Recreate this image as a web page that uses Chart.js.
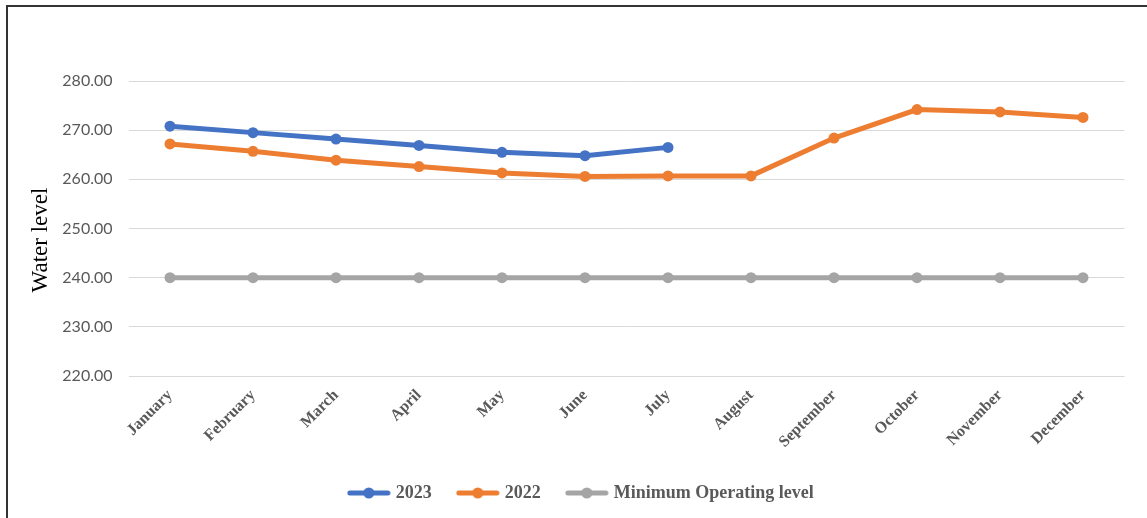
<!DOCTYPE html>
<html>
<head>
<meta charset="utf-8">
<script src="https://cdn.jsdelivr.net/npm/chart.js@4"></script>
<style>
  html, body { margin: 0; padding: 0; background: #fff; }
  #wrap { position: relative; width: 1147px; height: 518px; overflow: hidden; }
  #frame { position: absolute; left: 6px; top: 5px; right: -10px; bottom: -10px;
           border-top: 2px solid #333; border-left: 2px solid #333; pointer-events: none; }
  canvas { position: absolute; left: 0; top: 0; }
</style>
</head>
<body>
<div id="wrap">
  <canvas id="levelChart" width="1147" height="518"></canvas>
  <div id="frame"></div>
</div>
<script>
// Datos
const months = ['January', 'February', 'March', 'April', 'May', 'June', 'July',
  'August', 'September', 'October', 'November', 'December']
const level2023 = [270.8, 269.5, 268.2, 266.9, 265.5, 264.8, 266.5, null, null, null, null, null]
const level2022 = [267.2, 265.7, 263.9, 262.6, 261.3, 260.6, 260.7, 260.7, 268.4, 274.2, 273.7, 272.6]
const minLevel = [240, 240, 240, 240, 240, 240, 240, 240, 240, 240, 240, 240]
const yTicks = [220, 230, 240, 250, 260, 270, 280]

const BLUE = '#4472C4'
const ORANGE = '#ED7D31'
const GRAY = '#A5A5A5'
const TEXT = '#595959'

// Icono de leyenda: línea con punto
const legendIcon = color => {
    const c = document.createElement('canvas')
    c.width = 44
    c.height = 12
    const g = c.getContext('2d')
    g.strokeStyle = color
    g.lineWidth = 5
    g.lineCap = 'round'
    g.beginPath()
    g.moveTo(3, 6)
    g.lineTo(41, 6)
    g.stroke()
    g.fillStyle = color
    g.beginPath()
    g.arc(22, 6, 5.5, 0, Math.PI * 2)
    g.fill()
    return c
}

const makeSet = (label, data, color) => ({
    label: label,
    data: data,
    borderColor: color,
    backgroundColor: color,
    borderWidth: 5,
    pointRadius: 5.5,
    pointHoverRadius: 5.5,
    pointBorderWidth: 0,
    pointBackgroundColor: color,
    tension: 0,
    spanGaps: false,
    icon: legendIcon(color)
})

// Mover la leyenda un poco a la derecha
const legendShift = {
    id: 'legendShift',
    afterLayout: chart => {
        chart.legend.left += 20
        chart.legend.right += 20
    }
}

const ctx = document.getElementById('levelChart').getContext('2d')
new Chart(ctx, {
    type: 'line',
    data: {
        labels: months,
        datasets: [
            makeSet('2023', level2023, BLUE),
            makeSet('2022', level2022, ORANGE),
            makeSet('Minimum Operating level', minLevel, GRAY)
        ]
    },
    plugins: [legendShift],
    options: {
        responsive: false,
        animation: false,
        layout: { padding: { left: 0, right: 22.5, top: 81, bottom: 6 } },
        scales: {
            x: {
                offset: true,
                grid: { display: false, drawTicks: false },
                border: { display: false },
                ticks: {
                    autoSkip: false,
                    maxRotation: 45,
                    minRotation: 45,
                    padding: 10,
                    color: TEXT,
                    font: { family: '"Liberation Serif", serif', size: 16, weight: 'bold' }
                },
                afterFit: scale => { scale.height = 80 }
            },
            y: {
                min: 220,
                max: 280,
                afterBuildTicks: scale => { scale.ticks = yTicks.map(v => ({ value: v })) },
                grid: { color: '#D9D9D9', lineWidth: 1, drawTicks: false },
                border: { display: false },
                ticks: {
                    padding: 16,
                    color: TEXT,
                    font: { family: 'Lato, "Open Sans", sans-serif', size: 16 },
                    callback: v => v.toFixed(2)
                },
                title: {
                    display: true,
                    text: 'Water level    ',
                    color: '#000',
                    padding: { top: 27, bottom: 0 },
                    font: { family: '"Liberation Serif", serif', size: 23 }
                },
                afterFit: scale => { scale.width = 128.5 }
            }
        },
        plugins: {
            tooltip: { enabled: false },
            legend: {
                position: 'bottom',
                labels: {
                    usePointStyle: true,
                    pointStyleWidth: 36,
                    boxHeight: 12,
                    padding: 28,
                    color: TEXT,
                    font: { family: '"Liberation Serif", serif', size: 18, weight: 'bold' },
                    generateLabels: chart => {
                        const items = Chart.defaults.plugins.legend.labels.generateLabels(chart)
                        items.forEach(item => {
                            item.pointStyle = chart.data.datasets[item.datasetIndex].icon
                        })
                        return items
                    }
                }
            }
        }
    }
})
</script>
</body>
</html>
